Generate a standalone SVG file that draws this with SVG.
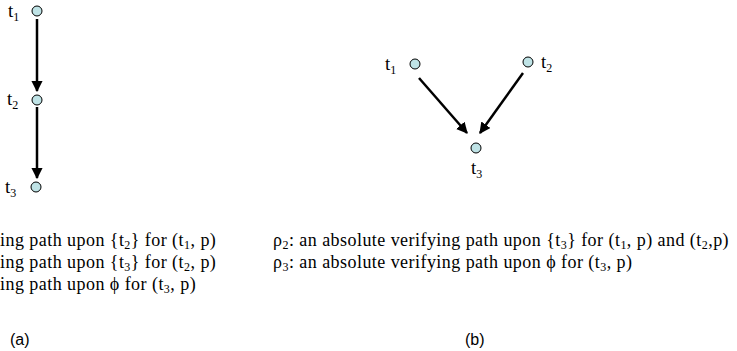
<svg xmlns="http://www.w3.org/2000/svg" width="737" height="351" viewBox="0 0 737 351">
<defs>
<style>
.node{fill:#bfe3e6;stroke:#000;stroke-width:1}
.lbl{font-family:'Liberation Serif','Times New Roman',serif;font-size:19px;fill:#000}
.txt{font-family:'Liberation Serif','Times New Roman',serif;font-size:18px;letter-spacing:0.45px;fill:#000}
.sub{font-size:12px}
.cap{font-family:'Liberation Sans',Arial,sans-serif;font-size:16px;fill:#000}
.edge{stroke:#000;stroke-width:2.5;fill:none;marker-end:url(#ah)}
</style>
<marker id="ah" viewBox="0 0 10 10" refX="9" refY="5" markerWidth="4.5" markerHeight="4.5" orient="auto" markerUnits="strokeWidth">
<path d="M0,0 L10,5 L0,10 z" fill="#000"/>
</marker>
</defs>
<g id="connectors">
<line class="edge" x1="37" y1="19" x2="37" y2="91"/>
<line class="edge" x1="37" y1="107" x2="37" y2="178"/>
<line class="edge" x1="419" y1="78" x2="467" y2="133"/>
<line class="edge" x1="523" y1="73" x2="480" y2="133"/>
</g>
<g id="a-t1"><circle class="node" cx="37" cy="11" r="5"/><text class="lbl" x="8" y="17">t<tspan class="sub" dy="4">1</tspan></text></g>
<g id="a-t2"><circle class="node" cx="37" cy="100" r="5"/><text class="lbl" x="7" y="105">t<tspan class="sub" dy="4">2</tspan></text></g>
<g id="a-t3"><circle class="node" cx="36" cy="187" r="5"/><text class="lbl" x="5" y="193">t<tspan class="sub" dy="4">3</tspan></text></g>
<g id="b-t1"><circle class="node" cx="415" cy="64" r="5"/><text class="lbl" x="385" y="70">t<tspan class="sub" dy="4">1</tspan></text></g>
<g id="b-t2"><circle class="node" cx="528" cy="62" r="5"/><text class="lbl" x="541" y="68">t<tspan class="sub" dy="4">2</tspan></text></g>
<g id="b-t3"><circle class="node" cx="476" cy="148" r="5"/><text class="lbl" x="471" y="174">t<tspan class="sub" dy="4">3</tspan></text></g>
<g id="text-a">
<text class="txt" x="0" y="246">ing path upon {t<tspan class="sub" dy="3">2</tspan><tspan dy="-3">} for (t</tspan><tspan class="sub" dy="3">1</tspan><tspan dy="-3">, p)</tspan></text>
<text class="txt" x="0" y="268">ing path upon {t<tspan class="sub" dy="3">3</tspan><tspan dy="-3">} for (t</tspan><tspan class="sub" dy="3">2</tspan><tspan dy="-3">, p)</tspan></text>
<text class="txt" x="0" y="290">ing path upon ϕ for (t<tspan class="sub" dy="3">3</tspan><tspan dy="-3">, p)</tspan></text>
</g>
<g id="text-b">
<text class="txt" x="273" y="246">ρ<tspan class="sub" dy="3">2</tspan><tspan dy="-3">: an absolute verifying path upon {t</tspan><tspan class="sub" dy="3">3</tspan><tspan dy="-3">} for (t</tspan><tspan class="sub" dy="3">1</tspan><tspan dy="-3">, p) and (t</tspan><tspan class="sub" dy="3">2</tspan><tspan dy="-3">,p)</tspan></text>
<text class="txt" x="273" y="268">ρ<tspan class="sub" dy="3">3</tspan><tspan dy="-3">: an absolute verifying path upon ϕ for (t</tspan><tspan class="sub" dy="3">3</tspan><tspan dy="-3">, p)</tspan></text>
</g>
<text class="cap" x="10" y="345">(a)</text>
<text class="cap" x="465" y="345">(b)</text>
</svg>
